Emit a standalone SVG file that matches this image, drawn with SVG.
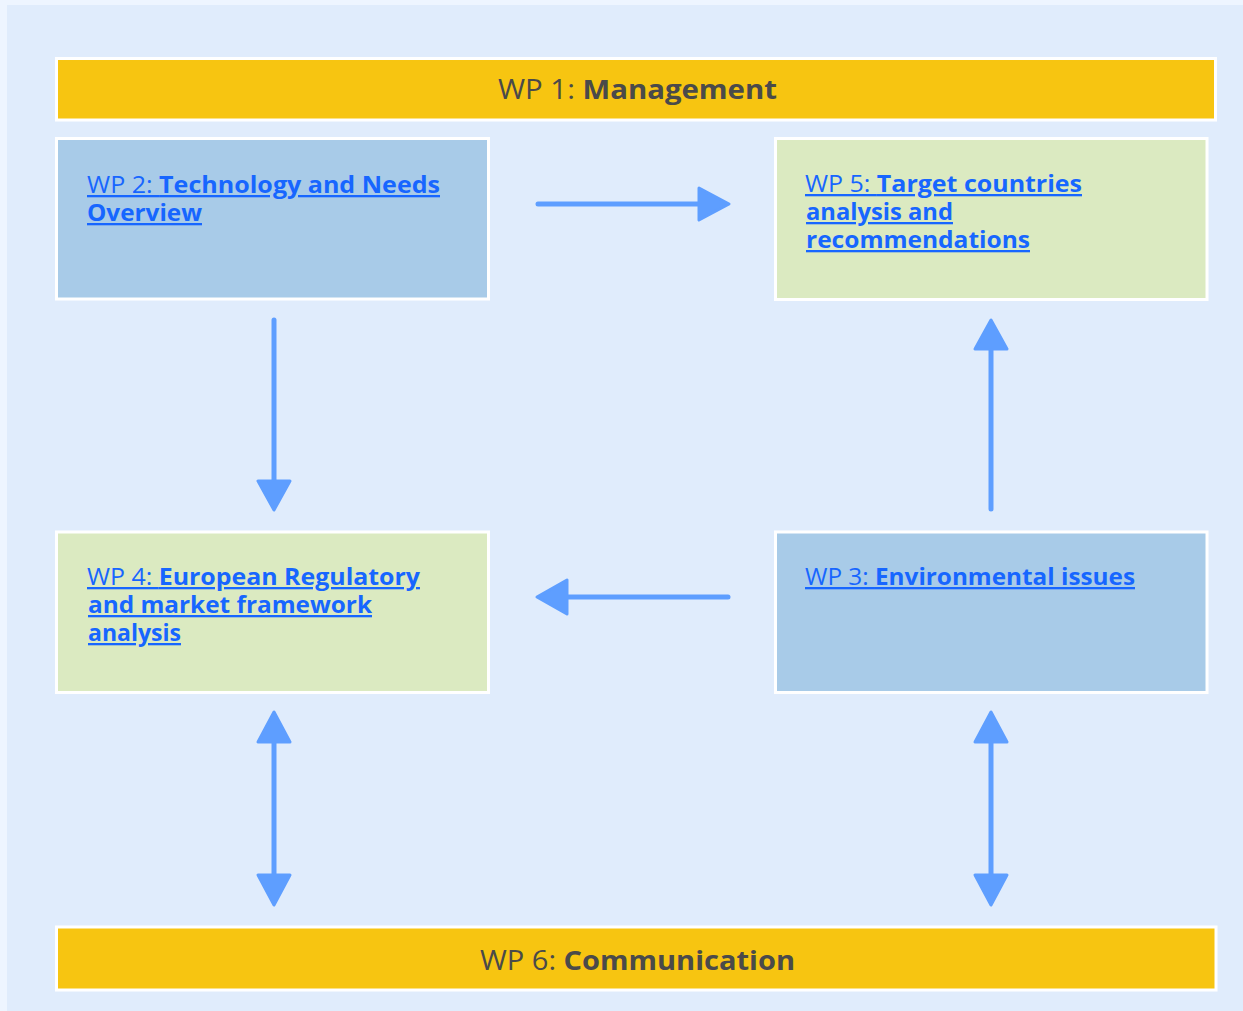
<svg xmlns="http://www.w3.org/2000/svg" width="1243" height="1011" viewBox="0 0 1243 1011">
<style>
.bar{fill:#F7C511;stroke:#FFFFFF;stroke-width:3}
.blue{fill:#A8CBE8;stroke:#FFFFFF;stroke-width:3}
.green{fill:#DBEAC1;stroke:#FFFFFF;stroke-width:3}
.lnk{font-family:"Open Sans","DejaVu Sans",sans-serif;font-size:23px;fill:#1766FF;text-decoration:underline}
.lnk .b{font-weight:bold}
.bt{font-family:"Open Sans","DejaVu Sans",sans-serif;font-size:27px;fill:#4A4A4A}
.bt .b{font-weight:bold}
.ln{stroke:#5E9EFF;stroke-width:5;stroke-linecap:round;fill:none}
.hd{fill:#5E9EFF;stroke:#5E9EFF;stroke-width:3;stroke-linejoin:round}
</style>
<rect x="0" y="0" width="1243" height="1011" fill="#EEF5FF"/>
<rect x="7" y="5" width="1236" height="1006" fill="#E0ECFC"/>
<g id="wp1">
<rect class="bar" x="56.5" y="58.5" width="1159" height="61.5"/>
<text class="bt" x="498" y="99" textLength="279" lengthAdjust="spacingAndGlyphs">WP 1: <tspan class="b">Management</tspan></text>
</g>
<g id="wp2">
<rect class="blue" x="56.5" y="138.5" width="432" height="160.5"/>
<text class="lnk" x="87" y="193" textLength="353" lengthAdjust="spacingAndGlyphs">WP 2: <tspan class="b">Technology and Needs</tspan></text>
<text class="lnk" x="87" y="221" textLength="115" lengthAdjust="spacingAndGlyphs"><tspan class="b">Overview</tspan></text>
</g>
<g id="wp5">
<rect class="green" x="775.5" y="138.5" width="431.5" height="161"/>
<text class="lnk" x="805" y="192" textLength="277" lengthAdjust="spacingAndGlyphs">WP 5: <tspan class="b">Target countries</tspan></text>
<text class="lnk" x="806" y="220" textLength="147" lengthAdjust="spacingAndGlyphs"><tspan class="b">analysis and</tspan></text>
<text class="lnk" x="806" y="248" textLength="224" lengthAdjust="spacingAndGlyphs"><tspan class="b">recommendations</tspan></text>
</g>
<g id="wp4">
<rect class="green" x="56.5" y="532" width="432" height="160.5"/>
<text class="lnk" x="87" y="585" textLength="333" lengthAdjust="spacingAndGlyphs">WP 4: <tspan class="b">European Regulatory</tspan></text>
<text class="lnk" x="88" y="613" textLength="284" lengthAdjust="spacingAndGlyphs"><tspan class="b">and market framework</tspan></text>
<text class="lnk" x="88" y="641" textLength="93" lengthAdjust="spacingAndGlyphs"><tspan class="b">analysis</tspan></text>
</g>
<g id="wp3">
<rect class="blue" x="775.5" y="532" width="431.5" height="160.5"/>
<text class="lnk" x="805" y="585" textLength="330" lengthAdjust="spacingAndGlyphs">WP 3: <tspan class="b">Environmental issues</tspan></text>
</g>
<g id="wp6">
<rect class="bar" x="56.5" y="927" width="1159.5" height="63"/>
<text class="bt" x="480" y="970" textLength="315" lengthAdjust="spacingAndGlyphs">WP 6: <tspan class="b">Communication</tspan></text>
</g>
<g id="connectors">
<line class="ln" x1="538" y1="204" x2="700" y2="204"/>
<polygon class="hd" points="699,188 729,204 699,220"/>
<line class="ln" x1="274" y1="320" x2="274" y2="482"/>
<polygon class="hd" points="258,481 290,481 274,510"/>
<line class="ln" x1="991" y1="509" x2="991" y2="348"/>
<polygon class="hd" points="975,349 1007,349 991,320"/>
<line class="ln" x1="728" y1="597" x2="566" y2="597"/>
<polygon class="hd" points="567,580 567,614 537,597"/>
<line class="ln" x1="274" y1="742" x2="274" y2="875"/>
<polygon class="hd" points="258,742 290,742 274,712"/>
<polygon class="hd" points="258,875 290,875 274,905"/>
<line class="ln" x1="991" y1="742" x2="991" y2="875"/>
<polygon class="hd" points="975,742 1007,742 991,712"/>
<polygon class="hd" points="975,875 1007,875 991,905"/>
</g>
</svg>
